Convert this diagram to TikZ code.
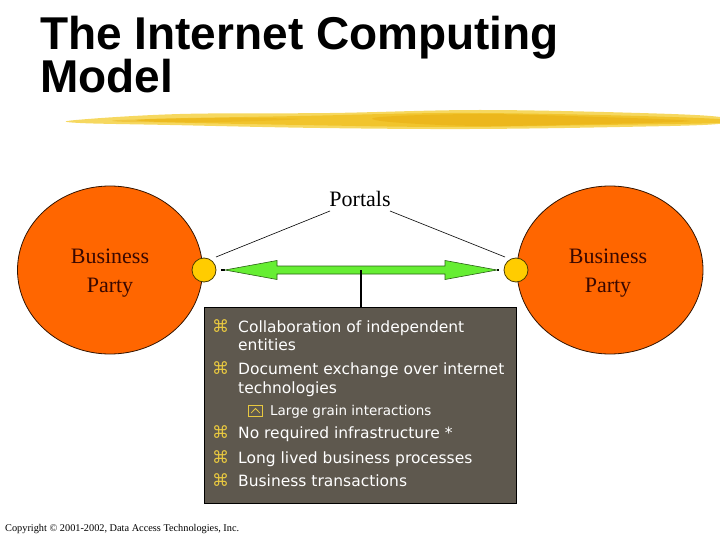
\documentclass[tikz,border=0pt]{standalone}
\usepackage{fontspec}
\setmainfont{Liberation Serif}
\newfontfamily\titlefont{Liberation Sans Bold}
\newfontfamily\boxfont{DejaVu Sans}
\newfontfamily\symfont{DejaVu Sans}
\definecolor{orangep}{HTML}{FF6600}
\definecolor{dotyel}{HTML}{FFCC00}
\definecolor{boxgray}{HTML}{5E584E}
\definecolor{bulyel}{HTML}{E8C840}
\definecolor{arrgreen}{HTML}{66EE33}
\definecolor{bptext}{HTML}{3A0800}
\definecolor{brushA}{HTML}{F6D860}
\definecolor{brushB}{HTML}{F0C020}
\definecolor{brushC}{HTML}{E8AE10}
\tikzset{
  party/.style={ellipse, draw=black!80!orangep, line width=0.8pt, fill=orangep, inner sep=0pt},
  dotnode/.style={circle, draw=black!70!dotyel, line width=0.8pt, fill=dotyel, minimum size=24pt, inner sep=0pt},
  bptxt/.style={font=\fontsize{22}{26}\selectfont, text=bptext, inner sep=0pt, anchor=base},
  bul/.style={font=\symfont\fontsize{17}{18}\selectfont, text=bulyel, inner sep=0pt, anchor=base west},
  itm/.style={font=\boxfont\fontsize{15.5}{18}\selectfont, text=white, inner sep=0pt, anchor=base west},
  sitm/.style={font=\boxfont\fontsize{13.5}{16}\selectfont, text=white, inner sep=0pt, anchor=base west},
  thinline/.style={draw=black, line width=0.6pt},
  ttl/.style={font=\titlefont\fontsize{46}{46}\selectfont, anchor=base west, inner sep=0pt},
}
\usetikzlibrary{shapes.geometric}
\begin{document}
\begin{tikzpicture}[x=1pt,y=-1pt]
\useasboundingbox (0,0) rectangle (720,540);
% title
\node[ttl] (t1) at (40,50) {The Internet Computing};
\node[ttl] (t2) at (40,93) {Model};
% brush stroke
\fill[brushA] plot[smooth cycle, tension=0.6] coordinates {(76,120) (180,114) (330,113) (480,110) (640,113) (720,117) (718,124) (620,127) (470,129) (320,128) (170,125) (80,123)};
\fill[brushB, opacity=0.8] plot[smooth cycle, tension=0.6] coordinates {(150,119) (300,116) (450,113) (600,115) (718,119) (716,123) (600,125) (450,127) (300,125) (160,122)};
\fill[brushC, opacity=0.55] plot[smooth cycle, tension=0.6] coordinates {(380,117) (480,114) (600,117) (690,121) (600,124) (480,126) (390,122)};
\fill[brushC, opacity=0.4] plot[smooth cycle, tension=0.6] coordinates {(120,120) (220,118) (300,119) (220,122) (130,122)};
% parties
\node[party, minimum width=185pt, minimum height=168pt] (lp) at (110,270) {};
\node[party, minimum width=186pt, minimum height=168pt] (rp) at (610,270) {};
\node[bptxt] (lpa) at (110,263) {Business};
\node[bptxt] (lpb) at (110,292) {Party};
\node[bptxt] (rpa) at (608,263) {Business};
\node[bptxt] (rpb) at (608,292) {Party};
% dots
\node[dotnode] (ld) at (204,270) {};
\node[dotnode] (rd) at (516,270) {};
% portals
\node[font=\fontsize{22}{26}\selectfont, inner sep=0pt, anchor=base] (portals) at (360,207) {Portals};
\coordinate (pl) at (330,211);
\coordinate (pr) at (390,211);
\coordinate (ls) at (216,257);
\coordinate (rs) at (505,257);
\draw[thinline] (ls) -- (pl);
\draw[thinline] (pr) -- (rs);
% arrow
\coordinate (at) at (225,270);
\coordinate (bt) at (497,270);
\draw[line width=2pt] (221,270) -- (at);
\draw[line width=2pt] (bt) -- (499,270);
\filldraw[fill=arrgreen, draw=black!60!arrgreen, line width=0.6pt]
  (at) -- (277,260.5) -- (277,266) -- (445,266) -- (445,260.5) -- (bt) -- (445,279.5) -- (445,274) -- (277,274) -- (277,279.5) -- cycle;
% box
\node[draw=black, line width=1pt, fill=boxgray, minimum width=312pt, minimum height=196pt, inner sep=0pt, anchor=north west] (box) at (204,307) {};
\coordinate (mid) at (361,270);
\draw[line width=1.8pt] (mid) -- (box.north -| mid);
% items
\node[bul] (b1) at (212,332) {⌘};
\node[itm] (i1) at (238,332) {Collaboration of independent};
\node[itm] (i1b) at (238,350) {entities};
\node[bul] (b2) at (212,374) {⌘};
\node[itm] (i2) at (238,374) {Document exchange over internet};
\node[itm] (i2b) at (238,393) {technologies};
\node[draw=bulyel, line width=0.8pt, minimum width=14pt, minimum height=11pt, inner sep=0pt] (ic) at (255.5,410.5) {};
\draw[bulyel, line width=0.8pt] ([xshift=3pt,yshift=-2.5pt]ic.west) -- ([yshift=2pt]ic.center) -- ([xshift=-3pt,yshift=-2.5pt]ic.east);
\node[sitm] (s1) at (270,415) {Large grain interactions};
\node[bul] (b3) at (212,438) {⌘};
\node[itm] (i3) at (238,438) {No required infrastructure *};
\node[bul] (b4) at (212,463) {⌘};
\node[itm] (i4) at (238,463) {Long lived business processes};
\node[bul] (b5) at (212,486) {⌘};
\node[itm] (i5) at (238,486) {Business transactions};
% copyright
\node[font=\fontsize{10.3}{12}\selectfont, anchor=base west, inner sep=0pt] (copy) at (5,531) {Copyright © 2001-2002, Data Access Technologies, Inc.};
\end{tikzpicture}
\end{document}
